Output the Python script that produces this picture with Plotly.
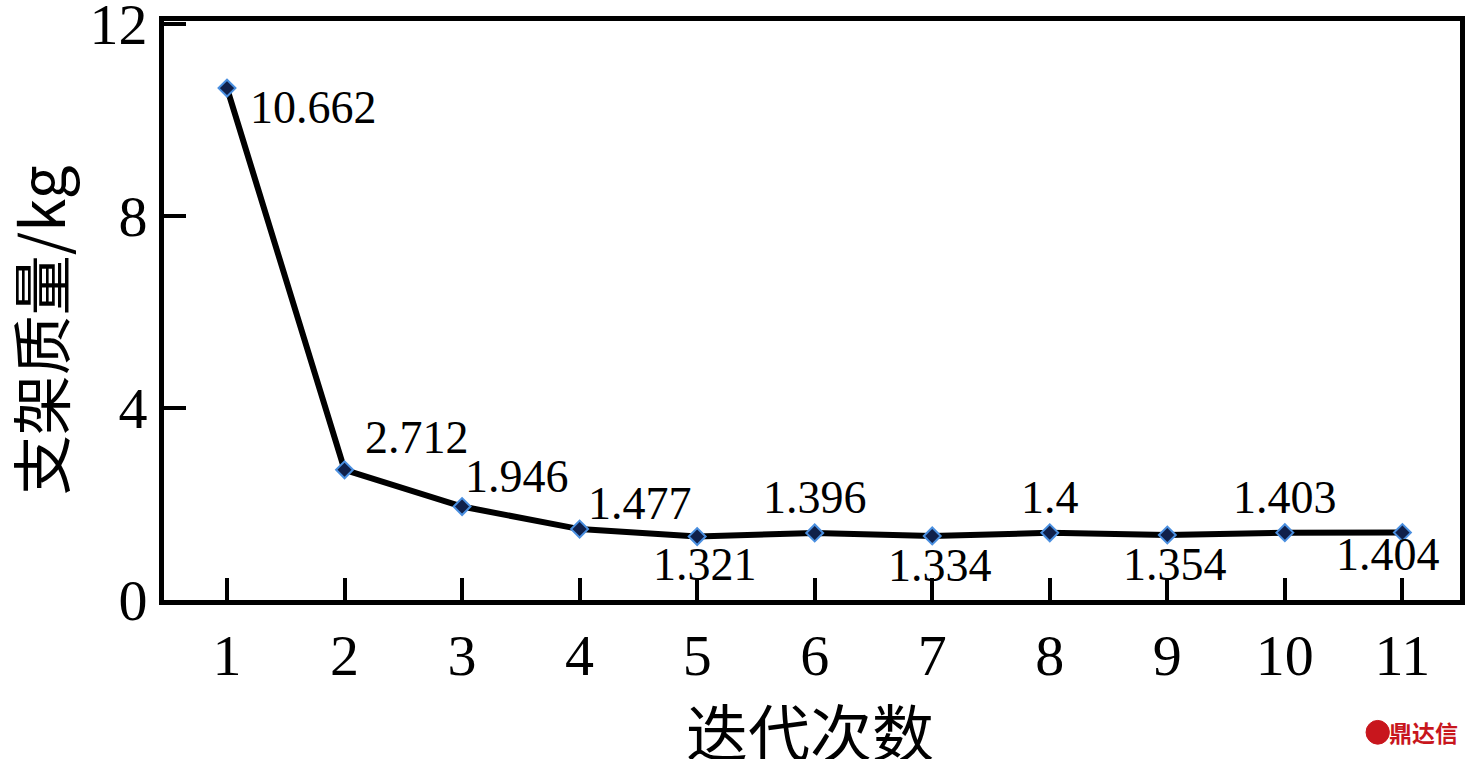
import plotly.graph_objects as go

iterations = [1, 2, 3, 4, 5, 6, 7, 8, 9, 10, 11]
mass_kg = [10.662, 2.712, 1.946, 1.477, 1.321, 1.396, 1.334, 1.4, 1.354, 1.403, 1.404]
label_text = ["10.662", "2.712", "1.946", "1.477", "1.321", "1.396", "1.334", "1.4", "1.354", "1.403", "1.404"]
y_ticks = [0, 4, 8, 12]
x_title = "迭代次数"
y_title = "支架质量/kg"

# label offsets (px) relative to point
label_dx = [86, 72, 55, 60, 8, 0, 8, 0, 8, 0, -14]
label_dy = [-19, 32, 30, 26, -28, 35, -30, 35, -30, 35, -22]

fig = go.Figure()
fig.add_trace(go.Scatter(
    x=iterations, y=mass_kg, mode="lines+markers",
    line=dict(color="black", width=6),
    marker=dict(symbol="diamond", size=13, color="#10204a",
                line=dict(color="#4a8fe0", width=2)),
    showlegend=False, hoverinfo="skip",
))

serif = "Liberation Serif, Times New Roman, serif"
cjk = "Noto Sans CJK SC"

for xv, yv, t, dx, dy in zip(iterations, mass_kg, label_text, label_dx, label_dy):
    fig.add_annotation(x=xv, y=yv, text=t, showarrow=False,
                       xshift=dx, yshift=dy,
                       font=dict(family=serif, size=46, color="black"))

# axis titles
fig.add_annotation(xref="paper", yref="paper", x=0.4985, y=-0.2245,
                   xanchor="center", yanchor="middle", showarrow=False,
                   text=x_title, font=dict(family=cjk, size=62, color="black"))
fig.add_annotation(xref="paper", yref="paper", x=-0.0972, y=0.466,
                   xanchor="center", yanchor="middle", showarrow=False, textangle=-90,
                   text=y_title, font=dict(family=cjk, size=60, color="black"))

# watermark
fig.add_annotation(xref="paper", yref="paper", x=1.0, y=-0.228,
                   xanchor="right", yanchor="middle", showarrow=False,
                   text="<b>鼎达信</b>",
                   font=dict(family=cjk, size=23, color="#c8161d"))
fig.add_shape(type="circle", xref="paper", yref="paper",
              x0=0.9275, x1=0.9455, y0=-0.249, y1=-0.208,
              fillcolor="#c8161d", line=dict(color="#c8161d", width=1))

fig.update_layout(
    width=1466, height=759,
    margin=dict(l=164, r=6, t=21, b=159),
    paper_bgcolor="white", plot_bgcolor="white",
    xaxis=dict(
        range=[0.464, 11.49], tickmode="array", tickvals=iterations,
        ticks="inside", ticklen=22, tickwidth=4, tickcolor="black",
        showline=True, linewidth=5, linecolor="black", mirror=True,
        showgrid=False, zeroline=False, automargin=False,
        tickfont=dict(family=serif, size=58, color="black"),
    ),
    yaxis=dict(
        range=[0, 12.06], tickmode="array", tickvals=y_ticks,
        ticks="inside", ticklen=22, tickwidth=4, tickcolor="black",
        showline=True, linewidth=5, linecolor="black", mirror=True,
        showgrid=False, zeroline=False, ticklabeloverflow="allow", automargin=False,
        tickfont=dict(family=serif, size=58, color="black"),
    ),
)

fig.write_html("out.html", config={"displayModeBar": False},
               post_script="document.body.style.margin='0';document.body.style.overflow='hidden';")
